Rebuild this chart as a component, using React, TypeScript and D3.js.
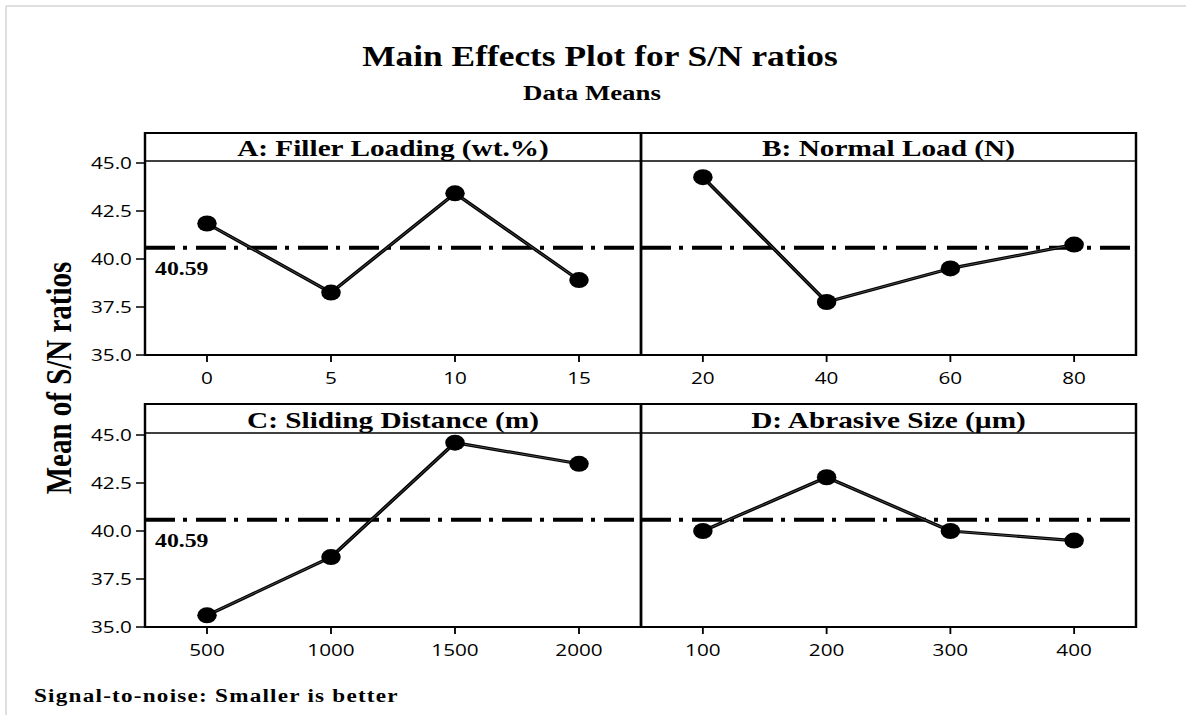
import React from "react";
import * as d3 from "d3";

// ---------- data ----------
const chartTitle = "Main Effects Plot for S/N ratios";
const chartSubtitle = "Data Means";
const yAxisTitle = "Mean of S/N ratios";
const footnote = "Signal-to-noise: Smaller is better";
const overallMean = 40.59;
const yTicks = [35, 37.5, 40, 42.5, 45];
const yDomain: [number, number] = [35, 45];

const factorNames = [
  "A: Filler Loading (wt.%)",
  "B: Normal Load (N)",
  "C: Sliding Distance (m)",
  "D: Abrasive Size (\u00B5m)",
];
const levelsA = ["0", "5", "10", "15"];
const meansA = [41.85, 38.25, 43.42, 38.9];
const levelsB = ["20", "40", "60", "80"];
const meansB = [44.26, 37.76, 39.51, 40.75];
const levelsC = ["500", "1000", "1500", "2000"];
const meansC = [35.61, 38.64, 44.6, 43.5];
const levelsD = ["100", "200", "300", "400"];
const meansD = [40.0, 42.8, 40.0, 39.5];

const allLevels = [levelsA, levelsB, levelsC, levelsD];
const allMeans = [meansA, meansB, meansC, meansD];

// ---------- layout (screen px; the whole drawing is stretched horizontally) ----------
const W = 1186;
const H = 715;
const S = 1.22;
const X = (px: number) => px / S;
const colEdges = [145, 641, 1136];
const rows = [
  { top: 133, stripBottom: 161, bottom: 355 },
  { top: 404, stripBottom: 433, bottom: 627 },
];
const serif = "'Liberation Serif', 'Times New Roman', Times, serif";
const sans = "'Open Sans', 'Noto Sans', 'DejaVu Sans', sans-serif";

export default function App() {
  const panels = factorNames.map((name, i) => {
    const r = rows[Math.floor(i / 2)];
    const c = i % 2;
    const x0 = colEdges[c];
    const x1 = colEdges[c + 1];
    const xScale = d3
      .scalePoint<string>()
      .domain(allLevels[i])
      .range([X(x0), X(x1)])
      .padding(0.5);
    const yScale = d3
      .scaleLinear()
      .domain(yDomain)
      .range([r.bottom, r.bottom - 192]);
    const pts = allLevels[i].map((lv, k) => ({ lv, v: allMeans[i][k] }));
    const line = d3
      .line<{ lv: string; v: number }>()
      .x((d) => xScale(d.lv) as number)
      .y((d) => yScale(d.v));
    return { name, i, r, c, x0, x1, xScale, yScale, pts, path: line(pts) || "" };
  });

  const dash = [30, 8, 4, 9].map((d) => d / S).join(" ");

  return (
    <svg
      width={W}
      height={H}
      style={{ position: "absolute", left: 0, top: 0, display: "block", background: "#fff" }}
    >
      <rect x={0} y={0} width={W} height={H} fill="#fff" />
      <line x1={6} y1={6} x2={W} y2={6} stroke="#d4d4d4" strokeWidth={1.5} />
      <line x1={6} y1={6} x2={6} y2={H} stroke="#d4d4d4" strokeWidth={1.5} />
      <g transform={`scale(${S},1)`}>
        <text
          x={X(600)}
          y={66}
          textAnchor="middle"
          fontFamily={serif}
          fontWeight="bold"
          fontSize={29}
          fill="#000"
        >
          {chartTitle}
        </text>
        <text
          x={X(592)}
          y={100}
          textAnchor="middle"
          fontFamily={serif}
          fontWeight="bold"
          fontSize={22}
          fill="#000"
        >
          {chartSubtitle}
        </text>
        <text
          transform={`translate(${X(71)},378) rotate(-90)`}
          textAnchor="middle"
          fontFamily={serif}
          fontWeight="bold"
          fontSize={29}
          fill="#000"
        >
          {yAxisTitle}
        </text>
        <text
          x={X(34)}
          y={702}
          fontFamily={serif}
          fontWeight="bold"
          fontSize={19}
          letterSpacing={1}
          fill="#000"
        >
          {footnote}
        </text>

        {panels.map((p) => (
          <g key={p.name}>
            {/* reference line */}
            <line
              x1={X(p.x0)}
              x2={X(p.x1)}
              y1={p.yScale(overallMean)}
              y2={p.yScale(overallMean)}
              stroke="#000"
              strokeWidth={4}
              strokeDasharray={dash}
            />
            {p.c === 0 && (
              <text
                x={X(155)}
                y={p.yScale(overallMean) + 27}
                fontFamily={serif}
                fontWeight="bold"
                fontSize={19.5}
                fill="#000"
              >
                {overallMean.toFixed(2)}
              </text>
            )}
            {/* data line */}
            <path d={p.path} fill="none" stroke="#000" strokeWidth={3.2} strokeLinejoin="round" />
            <path d={p.path} fill="none" stroke="#555" strokeWidth={0.8} />
            {p.pts.map((d) => (
              <circle
                key={d.lv}
                cx={p.xScale(d.lv) as number}
                cy={p.yScale(d.v)}
                r={8}
                fill="#000"
              />
            ))}
            {/* frame */}
            <rect
              x={X(p.x0)}
              y={p.r.top}
              width={X(p.x1) - X(p.x0)}
              height={p.r.bottom - p.r.top}
              fill="none"
              stroke="#000"
              strokeWidth={2}
            />
            <line
              x1={X(p.x0)}
              x2={X(p.x1)}
              y1={p.r.stripBottom}
              y2={p.r.stripBottom}
              stroke="#000"
              strokeWidth={1.5}
            />
            <text
              x={(X(p.x0) + X(p.x1)) / 2}
              y={p.r.stripBottom - 4.5}
              textAnchor="middle"
              fontFamily={serif}
              fontWeight="bold"
              fontSize={24}
              fill="#000"
            >
              {p.name}
            </text>
            {/* x ticks */}
            {p.xScale.domain().map((lv) => (
              <g key={lv}>
                <line
                  x1={p.xScale(lv) as number}
                  x2={p.xScale(lv) as number}
                  y1={p.r.bottom}
                  y2={p.r.bottom + 7}
                  stroke="#000"
                  strokeWidth={1.5}
                />
                <text
                  x={p.xScale(lv) as number}
                  y={p.r.bottom + 29.5}
                  textAnchor="middle"
                  fontFamily={sans}
                  fontSize={17}
                  fontWeight={500}
                  fill="#000"
                >
                  {lv}
                </text>
              </g>
            ))}
            {/* y ticks */}
            {p.c === 0 &&
              yTicks.map((t) => (
                <g key={t}>
                  <line
                    x1={X(p.x0 - 9)}
                    x2={X(p.x0)}
                    y1={p.yScale(t)}
                    y2={p.yScale(t)}
                    stroke="#000"
                    strokeWidth={1.5}
                  />
                  <text
                    x={X(132)}
                    y={p.yScale(t)}
                    dy="0.36em"
                    textAnchor="end"
                    fontFamily={sans}
                    fontSize={17}
                    fontWeight={500}
                    fill="#000"
                  >
                    {t.toFixed(1)}
                  </text>
                </g>
              ))}
          </g>
        ))}
      </g>
    </svg>
  );
}
